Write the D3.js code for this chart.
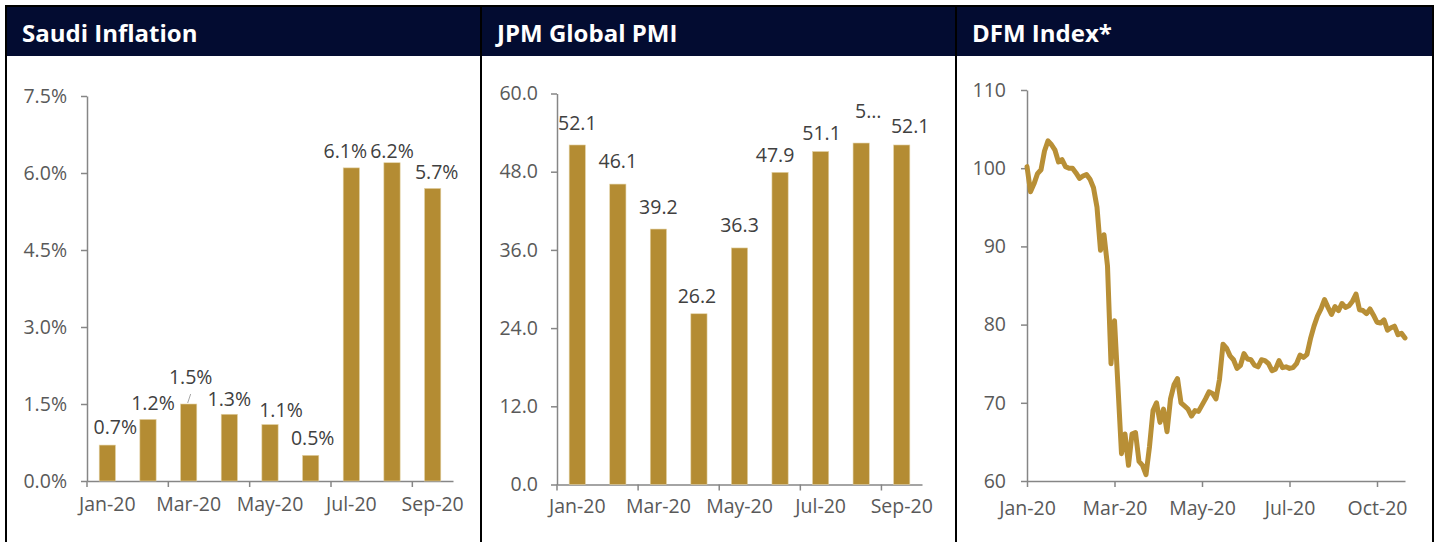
<!DOCTYPE html>
<html>
<head>
<meta charset="utf-8">
<script src="https://cdn.jsdelivr.net/npm/d3@7"></script>
<style>
  body { margin: 0; background: #fff; }
  svg { display: block; font-family: "Open Sans", "Noto Sans", sans-serif; }
</style>
</head>
<body>
<svg width="1437" height="542"></svg>
<script>
var months = ['Jan-20', 'Feb-20', 'Mar-20', 'Apr-20', 'May-20', 'Jun-20', 'Jul-20', 'Aug-20', 'Sep-20'];
var shownMonths = ['Jan-20', 'Mar-20', 'May-20', 'Jul-20', 'Sep-20'];

var saudiInflation = [0.7, 1.2, 1.5, 1.3, 1.1, 0.5, 6.1, 6.2, 5.7];
var inflationTicks = [0, 1.5, 3, 4.5, 6, 7.5];

var globalPmi = [52.1, 46.1, 39.2, 26.2, 36.3, 47.9, 51.1, 52.4, 52.1];
var pmiLabels = ['52.1', '46.1', '39.2', '26.2', '36.3', '47.9', '51.1', '5…', '52.1'];
var pmiTicks = [0, 12, 24, 36, 48, 60];

var dfmIndex = [
  100.2, 97.0, 98.0, 99.3, 99.8, 102.2, 103.5, 103.0, 102.3, 100.8,
  101.1, 100.2, 100.0, 100.0, 99.4, 98.7, 99.0, 99.2, 98.6, 97.5,
  95.0, 89.5, 91.5, 87.5, 75.0, 80.5, 72.0, 63.5, 66.0, 62.0,
  66.0, 66.2, 62.5, 62.0, 60.8, 64.4, 69.0, 70.0, 67.5, 69.2,
  66.3, 70.5, 72.3, 73.1, 70.0, 69.6, 69.2, 68.3, 69.0, 68.9,
  69.7, 70.5, 71.4, 71.2, 70.5, 73.0, 77.5, 77.0, 76.0, 75.5,
  74.4, 74.8, 76.3, 75.6, 75.5, 74.8, 74.6, 75.5, 75.4, 75.0,
  74.1, 74.3, 75.4, 74.5, 74.6, 74.4, 74.5, 75.0, 76.1, 75.8,
  76.2, 78.2, 79.8, 81.1, 82.0, 83.2, 82.2, 81.3, 82.3, 81.8,
  82.7, 82.2, 82.4, 83.0, 83.9, 81.9, 81.8, 81.4, 82.0, 81.2,
  80.3, 80.2, 80.6, 79.3, 79.6, 79.8, 78.7, 78.9, 78.3
];
var dfmTickIdx = [0, 25, 50, 75, 100];
var dfmTickLabels = ['Jan-20', 'Mar-20', 'May-20', 'Jul-20', 'Oct-20'];
var dfmTicks = [60, 70, 80, 90, 100, 110];

var navy = '#030c31';
var gold = '#b48c33';
var axisGrey = '#868686';
var tickText = '#595959';
var labelText = '#404040';
var fontSize = '19.5px';
var font = '"Open Sans", "Noto Sans", sans-serif';

var svg = d3.select('svg');

// panel frames + headers
var panels = [
  { x: 6, w: 475, title: 'Saudi Inflation' },
  { x: 481, w: 475, title: 'JPM Global PMI' },
  { x: 956, w: 477, title: 'DFM Index*' }
];
panels.forEach(function(p) {
  svg.append('rect')
    .attr('x', p.x).attr('y', 7)
    .attr('width', p.w).attr('height', 49)
    .attr('fill', navy);
  svg.append('text')
    .attr('x', p.x + 16).attr('y', 42)
    .attr('fill', '#fff')
    .attr('font-size', '24px')
    .attr('font-weight', 'bold')
    .text(p.title);
});
svg.append('rect')
  .attr('x', 6).attr('y', 6)
  .attr('width', 1427).attr('height', 545)
  .attr('fill', 'none').attr('stroke', '#000').attr('stroke-width', 2);
svg.append('line').attr('x1', 481).attr('x2', 481).attr('y1', 6).attr('y2', 542)
  .attr('stroke', '#000').attr('stroke-width', 2);
svg.append('line').attr('x1', 956).attr('x2', 956).attr('y1', 6).attr('y2', 542)
  .attr('stroke', '#000').attr('stroke-width', 2);

var styleAxis = function(g) {
  g.selectAll('path, line').attr('stroke', axisGrey).attr('stroke-width', 1.5);
  g.selectAll('text').attr('fill', tickText).attr('font-size', fontSize)
    .attr('font-family', font);
};

var barChart = function(opt) {
  var x = d3.scaleBand().domain(months)
    .range([opt.x0, opt.x1]).paddingInner(0.6).paddingOuter(0.3);
  var y = d3.scaleLinear().domain([0, d3.max(opt.ticks)]).range([opt.y1, opt.y0]);

  svg.append('g')
    .attr('transform', 'translate(' + opt.x0 + ',0)')
    .call(d3.axisLeft(y).tickValues(opt.ticks).tickFormat(opt.fmt)
      .tickSize(6).tickSizeOuter(0).tickPadding(opt.padY))
    .call(styleAxis);

  // x axis: labels on every second band, ticks on band boundaries
  var xg = svg.append('g')
    .attr('transform', 'translate(0,' + opt.y1 + ')')
    .call(d3.axisBottom(x).tickValues(shownMonths).tickSize(0).tickSizeOuter(0).tickPadding(opt.padX))
    .call(styleAxis);
  xg.selectAll('.tick').each(function(d) {
    d3.select(this).append('line')
      .attr('x1', -x.step() / 2).attr('x2', -x.step() / 2)
      .attr('y1', 0).attr('y2', 6)
      .attr('stroke', axisGrey).attr('stroke-width', 1.5);
  });

  svg.append('g').selectAll('rect').data(opt.values).enter()
    .append('rect')
    .attr('x', function(d, i) { return x(months[i]); })
    .attr('y', function(d) { return y(d); })
    .attr('width', x.bandwidth())
    .attr('height', function(d) { return opt.y1 - y(d); })
    .attr('fill', gold)
    .attr('stroke', '#e3d2a6')
    .attr('stroke-width', 0.6);

  svg.append('g').selectAll('text').data(opt.values).enter()
    .append('text')
    .attr('x', function(d, i) { return x(months[i]) + x.bandwidth() / 2 + opt.nudge[i][0]; })
    .attr('y', function(d, i) { return y(d) - opt.nudge[i][1]; })
    .attr('dy', '0.36em')
    .attr('text-anchor', 'middle')
    .attr('fill', labelText)
    .attr('font-size', fontSize)
    .text(function(d, i) { return opt.label(d, i); });

  return { x: x, y: y };
};

var infl = barChart({
  x0: 87, x1: 453, y0: 96, y1: 481,
  values: saudiInflation, ticks: inflationTicks,
  fmt: function(d) { return d.toFixed(1) + '%'; },
  label: function(d) { return d.toFixed(1) + '%'; },
  padY: 14, padX: 16,
  nudge: [[8, 18], [5, 16], [2, 27], [0, 15], [11, 15], [2, 17], [-6, 17], [0, 12], [4, 16]]
});
// leader line for the Mar-20 label
svg.append('line')
  .attr('x1', infl.x('Mar-20') + infl.x.bandwidth() / 2 - 1)
  .attr('y1', infl.y(saudiInflation[2]) - 1)
  .attr('x2', infl.x('Mar-20') + infl.x.bandwidth() / 2 + 2)
  .attr('y2', infl.y(saudiInflation[2]) - 10)
  .attr('stroke', '#a6a6a6').attr('stroke-width', 1);

barChart({
  x0: 557, x1: 922, y0: 93.5, y1: 484.5,
  values: globalPmi, ticks: pmiTicks,
  fmt: function(d) { return d.toFixed(1); },
  label: function(d, i) { return pmiLabels[i]; },
  padY: 13, padX: 15,
  nudge: [[0, 22.5], [0, 23.5], [0, 22], [-2, 17.5], [0, 22.5], [-5, 17], [1, 18.5], [7, 32.5], [8.5, 19.5]]
});

// DFM line
var dx0 = 1027, dx1 = 1405, dy0 = 90, dy1 = 481;
var dfmX = d3.scaleLinear().domain([0, dfmIndex.length - 1]).range([dx0, dx1]);
var dfmY = d3.scaleLinear().domain([60, 110]).range([dy1, dy0]);

svg.append('g')
  .attr('transform', 'translate(' + dx0 + ',0)')
  .call(d3.axisLeft(dfmY).tickValues(dfmTicks).tickSize(6).tickSizeOuter(0).tickPadding(15))
  .call(styleAxis);
svg.append('g')
  .attr('transform', 'translate(0,' + dy1 + ')')
  .call(d3.axisBottom(dfmX).tickValues(dfmTickIdx)
    .tickFormat(function(d, i) { return dfmTickLabels[i]; })
    .tickSize(6).tickSizeOuter(0).tickPadding(14))
  .call(styleAxis);

svg.append('path')
  .datum(dfmIndex)
  .attr('fill', 'none')
  .attr('stroke', '#b88f36')
  .attr('stroke-width', 5)
  .attr('stroke-linejoin', 'round')
  .attr('stroke-linecap', 'round')
  .attr('d', d3.line()
    .x(function(d, i) { return dfmX(i); })
    .y(function(d) { return dfmY(d); }));
</script>
</body>
</html>
